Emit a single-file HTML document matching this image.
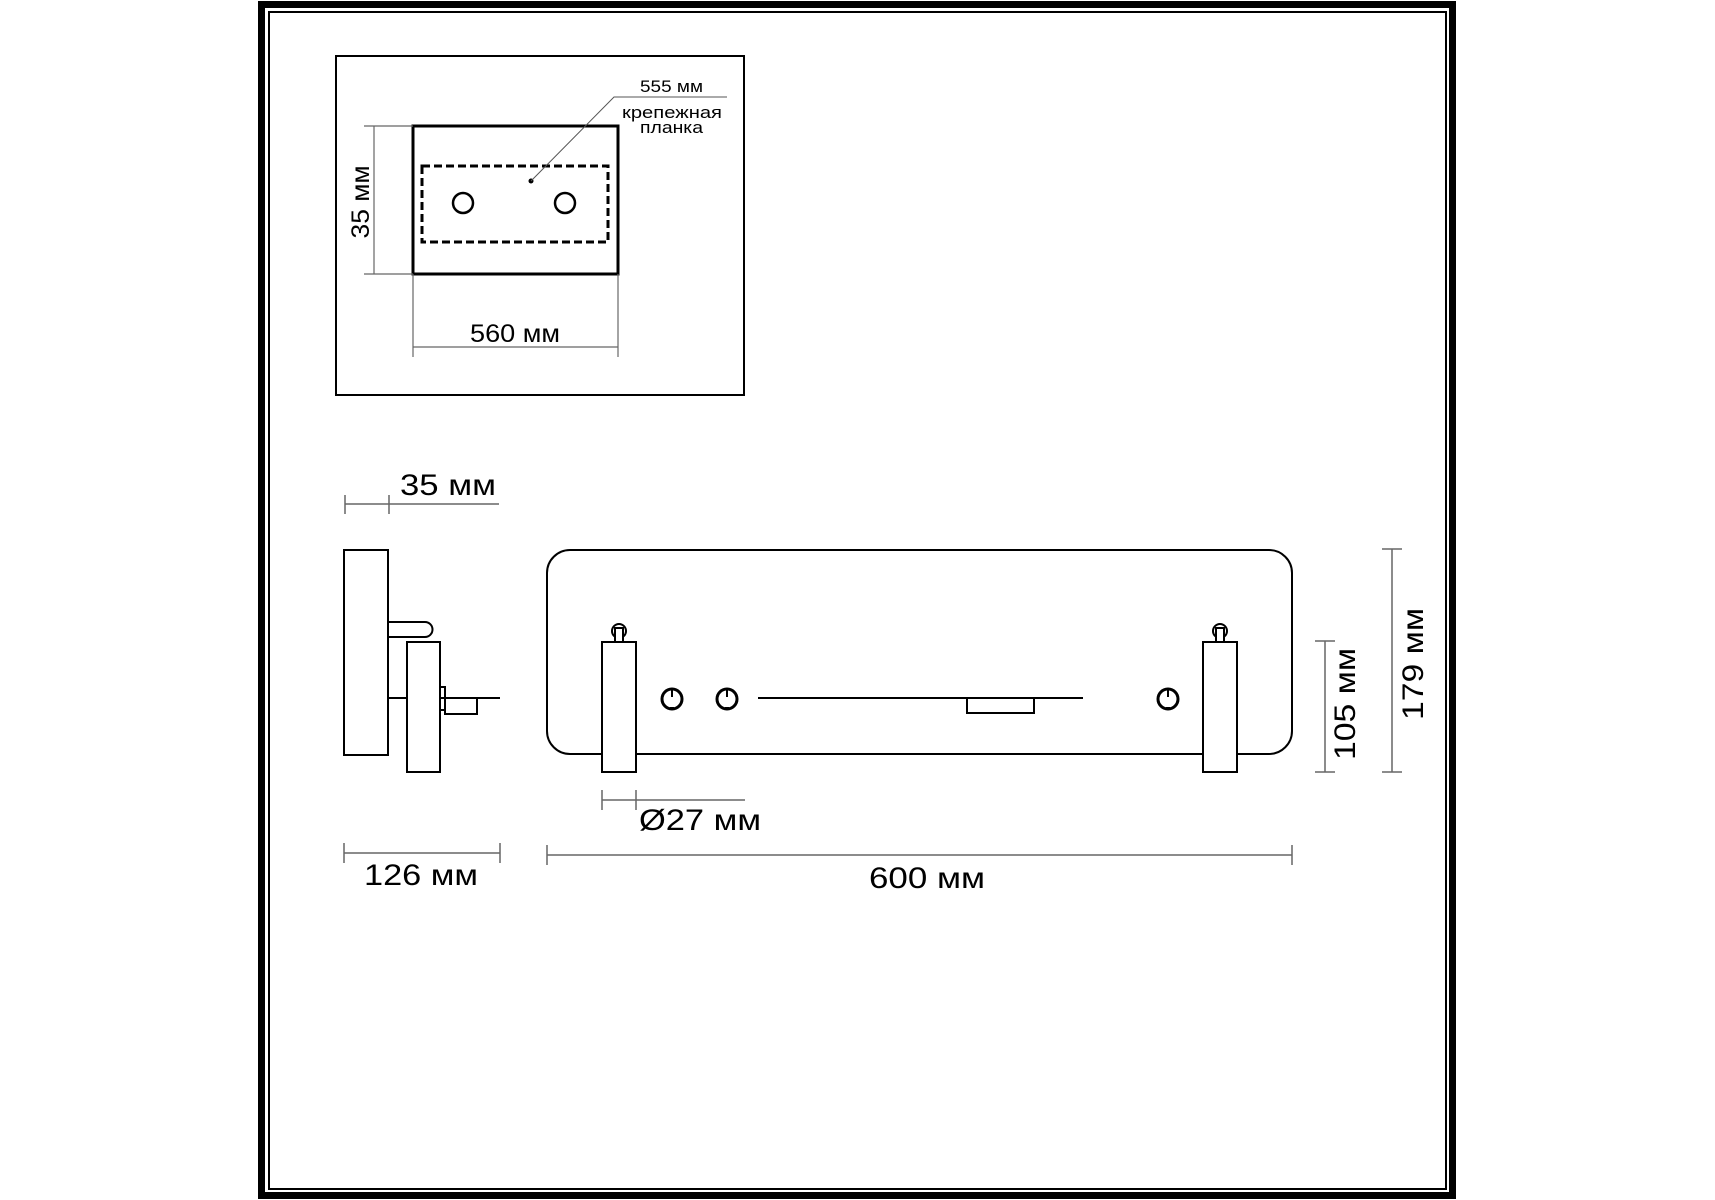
<!DOCTYPE html>
<html><head><meta charset="utf-8"><style>html,body{margin:0;padding:0;background:#fff}svg{display:block}</style></head>
<body>
<svg width="1715" height="1200" viewBox="0 0 1715 1200" xmlns="http://www.w3.org/2000/svg" font-family="Liberation Sans, sans-serif">
<rect x="261.5" y="4.5" width="1191" height="1191" fill="none" stroke="#000" stroke-width="7"/>
<rect x="269" y="12" width="1177" height="1177" fill="none" stroke="#000" stroke-width="2"/>

<!-- inset -->
<rect x="336" y="56" width="408" height="339" fill="none" stroke="#000" stroke-width="2"/>
<rect x="413" y="126" width="205" height="148" fill="none" stroke="#000" stroke-width="3"/>
<rect x="422" y="166" width="186" height="76" fill="none" stroke="#000" stroke-width="3" stroke-dasharray="8,4"/>
<circle cx="463" cy="203" r="10" fill="none" stroke="#000" stroke-width="2.5"/>
<circle cx="565" cy="203" r="10" fill="none" stroke="#000" stroke-width="2.5"/>
<circle cx="531" cy="181" r="2.5" fill="#000"/>
<polyline points="531,181 614,97 727,97" fill="none" stroke="#555" stroke-width="1"/>
<text x="640" y="92" font-size="17" textLength="63" lengthAdjust="spacingAndGlyphs">555 мм</text>
<text x="622" y="118" font-size="17" textLength="100" lengthAdjust="spacingAndGlyphs">крепежная</text>
<text x="640" y="133" font-size="17" textLength="63" lengthAdjust="spacingAndGlyphs">планка</text>
<g stroke="#666" stroke-width="1.2">
<line x1="374" y1="126" x2="374" y2="274"/><line x1="364" y1="126" x2="413" y2="126"/><line x1="364" y1="274" x2="413" y2="274"/>
<line x1="413" y1="347" x2="618" y2="347"/><line x1="413" y1="274" x2="413" y2="357"/><line x1="618" y1="274" x2="618" y2="357"/>
</g>
<text transform="translate(369,202) rotate(-90)" text-anchor="middle" font-size="25" textLength="73" lengthAdjust="spacingAndGlyphs">35 мм</text>
<text x="470" y="342" font-size="25" textLength="90" lengthAdjust="spacingAndGlyphs">560 мм</text>

<!-- side view -->
<g fill="none" stroke="#000" stroke-width="2">
<rect x="344" y="550" width="44" height="205"/>
<path d="M388,622 H425 A7.5,7.5 0 0 1 425,637 H388"/>
<rect x="407" y="642" width="33" height="130"/>
<line x1="388" y1="698" x2="407" y2="698"/>
<line x1="440" y1="698" x2="500" y2="698"/>
<rect x="440" y="687" width="5" height="23"/>
<rect x="445" y="698" width="32" height="16"/>
</g>

<!-- front view -->
<g fill="none" stroke="#000" stroke-width="2">
<rect x="547" y="550" width="745" height="204" rx="23"/>
<rect x="602" y="642" width="34" height="130" fill="#fff"/>
<rect x="1203" y="642" width="34" height="130" fill="#fff"/>
<circle cx="619" cy="631" r="7"/><rect x="615" y="628" width="8" height="14" fill="#fff"/>
<circle cx="1220" cy="631" r="7"/><rect x="1216" y="628" width="8" height="14" fill="#fff"/>
<line x1="758" y1="698" x2="1083" y2="698"/>
<rect x="967" y="698" width="67" height="15"/>
</g>
<g fill="none" stroke="#000" stroke-width="3">
<circle cx="672" cy="699" r="10"/><circle cx="727" cy="699" r="10"/><circle cx="1168" cy="699" r="10"/>
</g>
<g stroke="#000" stroke-width="2">
<line x1="672" y1="690" x2="672" y2="697"/><line x1="727" y1="690" x2="727" y2="697"/><line x1="1168" y1="690" x2="1168" y2="697"/>
<line x1="670" y1="708" x2="674" y2="708"/><line x1="725" y1="708" x2="729" y2="708"/><line x1="1166" y1="708" x2="1170" y2="708"/>
</g>

<!-- dimensions -->
<g stroke="#666" stroke-width="1.5">
<line x1="345" y1="504" x2="499" y2="504"/><line x1="345" y1="495" x2="345" y2="514"/><line x1="389" y1="495" x2="389" y2="514"/>
<line x1="344" y1="853" x2="500" y2="853"/><line x1="344" y1="843" x2="344" y2="863"/><line x1="500" y1="843" x2="500" y2="863"/>
<line x1="547" y1="855" x2="1292" y2="855"/><line x1="547" y1="845" x2="547" y2="865"/><line x1="1292" y1="845" x2="1292" y2="865"/>
<line x1="602" y1="800" x2="745" y2="800"/><line x1="602" y1="790" x2="602" y2="810"/><line x1="636" y1="790" x2="636" y2="810"/>
<line x1="1325" y1="641" x2="1325" y2="772"/><line x1="1315" y1="641" x2="1335" y2="641"/><line x1="1315" y1="772" x2="1335" y2="772"/>
<line x1="1392" y1="549" x2="1392" y2="772"/><line x1="1382" y1="549" x2="1402" y2="549"/><line x1="1382" y1="772" x2="1402" y2="772"/>
</g>
<g font-size="30">
<text x="400" y="495" textLength="96" lengthAdjust="spacingAndGlyphs">35 мм</text>
<text x="364" y="885" textLength="114" lengthAdjust="spacingAndGlyphs">126 мм</text>
<text x="869" y="888" textLength="116" lengthAdjust="spacingAndGlyphs">600 мм</text>
<text x="639" y="830" textLength="122" lengthAdjust="spacingAndGlyphs">Ø27 мм</text>
<text transform="translate(1355,704) rotate(-90)" text-anchor="middle" textLength="112" lengthAdjust="spacingAndGlyphs">105 мм</text>
<text transform="translate(1423,664) rotate(-90)" text-anchor="middle" textLength="112" lengthAdjust="spacingAndGlyphs">179 мм</text>
</g>
</svg>
</body></html>
